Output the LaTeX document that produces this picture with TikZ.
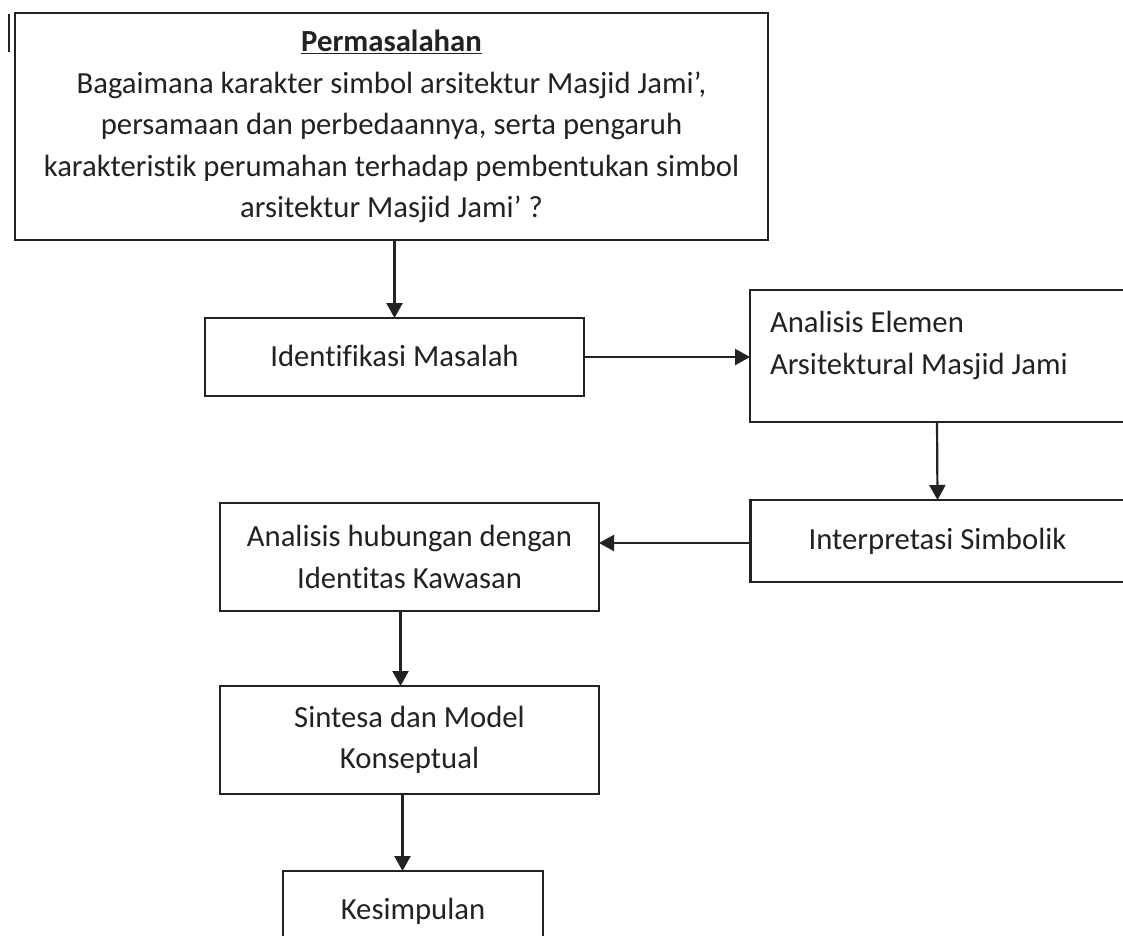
\documentclass[tikz,border=0pt]{standalone}
\usepackage{fontspec}
\setmainfont[Ligatures={NoCommon}]{Carlito}
\usetikzlibrary{arrows.meta}
\definecolor{ink}{HTML}{222222}
\begin{document}
\begin{tikzpicture}[x=1pt,y=-1pt,
  box/.style={draw=ink,line width=2.6pt,rectangle,inner sep=0pt,outer sep=0pt,
    align=center,text=ink,font={\fontsize{30.7}{41.5}\selectfont}},
  txt/.style={inner sep=0pt,outer sep=0pt,text=ink,align=left,anchor=north west,
    font={\fontsize{30.7}{42}\selectfont}},
  arr/.style={draw=ink,line width=2.2pt,-{Triangle[length=15pt,width=16pt]}}]
\clip (0,0) rectangle (1123,935);
\fill[white] (0,0) rectangle (1123,935);
% stray mark at top left
\draw[ink,line width=2.2pt] (9,14) -- (9,52);
% boxes
\node[box,minimum width=753pt,minimum height=227pt] (top) at (391.5,126.5)
  {\textbf{\underline{Permasalahan}}\\
   Bagaimana karakter simbol arsitektur Masjid Jami’,\\
   persamaan dan perbedaannya, serta pengaruh\\
   karakteristik perumahan terhadap pembentukan simbol\\
   arsitektur Masjid Jami’ ?};
\node[box,minimum width=379pt,minimum height=78pt] (ident) at (394.5,357)
  {\raisebox{3pt}{Identifikasi Masalah}};
\node[box,minimum width=374pt,minimum height=132pt] (elemen) at (937,356) {};
\node[txt] (elemenText) at (770,311)
  {Analisis Elemen\\Arsitektural Masjid Jami};
\node[box,minimum width=374pt,minimum height=82pt] (interp) at (937.5,541)
  {Interpretasi Simbolik};
\node[box,minimum width=379pt,minimum height=108pt] (hub) at (409.5,557)
  {Analisis hubungan dengan\\Identitas Kawasan};
\node[box,minimum width=379pt,minimum height=108pt] (sint) at (409.5,740)
  {Sintesa dan Model\\Konseptual};
\node[box,minimum width=260pt,minimum height=80pt] (kes) at (413,911)
  {\raisebox{4pt}{Kesimpulan}};
% connectors
\draw[arr] (ident.north |- top.south) -- (ident.north);
\draw[arr] (ident.east) -- (ident.east -| elemen.west);
\draw[arr] (elemen.south) -- (interp.north);
\draw[arr] ([yshift=-2pt]interp.west) -- ([yshift=-2pt]interp.west -| hub.east);
\draw[arr] ([xshift=-9pt]hub.south) -- ([xshift=-9pt]hub.south |- sint.north);
\draw[arr] ([xshift=-7pt]sint.south) -- ([xshift=-7pt]sint.south |- kes.north);
\end{tikzpicture}
\end{document}
